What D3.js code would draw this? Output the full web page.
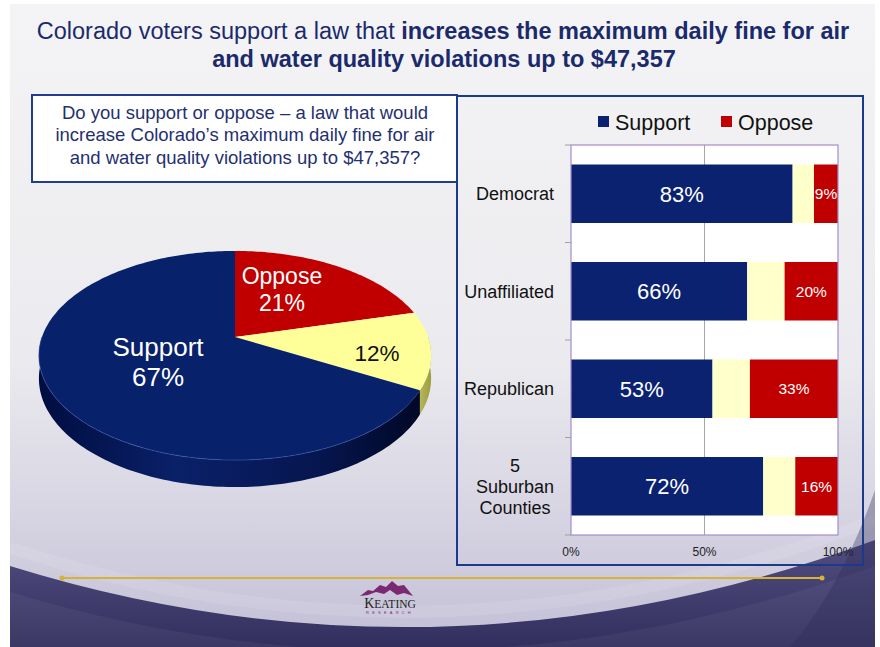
<!DOCTYPE html>
<html>
<head>
<meta charset="utf-8">
<script src="https://cdn.jsdelivr.net/npm/d3@7"></script>
<style>
  body { margin: 0; background: #fff; }
  svg { display: block; font-family: "Liberation Sans", Arial, sans-serif; }
</style>
</head>
<body>
<div class="slide"></div>
<script>
// DATA
const titleNormal = "Colorado voters support a law that ";
const titleBold = ["increases the maximum daily fine for air", "and water quality violations up to $47,357"];
const questionLines = [
  "Do you support or oppose \u2013 a law that would",
  "increase Colorado\u2019s maximum daily fine for air",
  "and water quality violations up to $47,357?"
];
const pieCategories = ["Oppose", "Unsure", "Support"];
const pieValues = [21, 12, 67];
const pieShowName = [true, false, true];
const groups = ["Democrat", "Unaffiliated", "Republican", "5\nSuburban\nCounties"];
const supportValues = [83, 66, 53, 72];
const unsureValues = [8, 14, 14, 12];
const opposeValues = [9, 20, 33, 16];
const xTicks = [0, 50, 100];
const legendNames = ["Support", "Oppose"];

// Setup
const W = 880, H = 647;
const navy = "#07216b", red = "#c00000";
const svg = d3.select(".slide").append("svg").attr("width", W).attr("height", H);
const defs = svg.append("defs");

addGradient("bg", [[0, "#f4f4f6"], [0.55, "#ebebef"], [0.8, "#d6d4e2"], [1, "#c2bfd6"]], true);
addGradient("dark", [[0, "#524e80"], [1, "#322e5d"]], true);
addGradient("sideNavy", [[0, "#000d40"], [0.35, "#0a2068"], [0.7, "#061650"], [1, "#000722"]], false, 38, 432);
addGradient("sideYellow", [[0, "#e6e680"], [1, "#9a9a40"]], false, 400, 432);

drawBackground();
drawTitle();
drawQuestion();
drawPie();
drawBars();
drawFooter();

function addGradient(id, stops, vertical, x1, x2) {
  const g = defs.append("linearGradient").attr("id", id);
  if (vertical) g.attr("x1", 0).attr("y1", 0).attr("x2", 0).attr("y2", 1);
  else g.attr("gradientUnits", "userSpaceOnUse").attr("x1", x1).attr("x2", x2).attr("y1", 0).attr("y2", 0);
  stops.forEach(s => g.append("stop").attr("offset", s[0]).attr("stop-color", s[1]));
}

// BACKGROUND
function drawBackground() {
  svg.append("rect").attr("x", 10).attr("y", 4).attr("width", 865).attr("height", 643).attr("fill", "url(#bg)");
  svg.append("path").attr("d", "M10,566 Q442,700 875,540 L875,647 L10,647 Z").attr("fill", "url(#dark)");
  svg.append("path").attr("d", "M10,592 Q442,722 875,566 L875,647 L10,647 Z").attr("fill", "#ffffff").attr("opacity", 0.05);
  svg.append("path").attr("d", "M10,548 Q442,688 875,520").attr("fill", "none").attr("stroke", "#ffffff").attr("stroke-width", 12).attr("opacity", 0.1);
  svg.append("path").attr("d", "M790,647 Q840,590 875,490 L875,647 Z").attr("fill", "#2e2a58").attr("opacity", 0.35);
}

// TITLE
function drawTitle() {
  const t = svg.append("text").attr("text-anchor", "middle").attr("font-size", 23.5).attr("fill", "#1b2a6b");
  const l1 = t.append("tspan").attr("x", 443).attr("y", 39);
  l1.append("tspan").text(titleNormal);
  l1.append("tspan").attr("font-weight", "bold").text(titleBold[0]);
  svg.append("text").attr("text-anchor", "middle").attr("font-size", 23.5).attr("font-weight", "bold")
    .attr("fill", "#1b2a6b").attr("x", 444).attr("y", 67).text(titleBold[1]);
}

function drawQuestion() {
  svg.append("rect").attr("x", 32).attr("y", 95).attr("width", 425).attr("height", 87)
    .attr("fill", "#fff").attr("stroke", "#233d8c").attr("stroke-width", 2);
  svg.append("g").selectAll("text").data(questionLines).enter().append("text")
    .attr("x", 245).attr("y", (d, i) => 118.5 + i * 22.5)
    .attr("text-anchor", "middle").attr("font-size", 18.5).attr("fill", "#1f3070")
    .text(d => d);
}

// PIE (perspective projection of a tilted disc)
function drawPie() {
  const p = { cx: 235, cy: 337, r: 193, tilt: 101.3, k: 0.177, depth: 22.2 };
  const project = (a, f = 1, drop = 0) => {
    const w = 1 + p.k * f * Math.cos(a);
    return [p.cx + p.r * f * Math.sin(a) / w, p.cy - p.tilt * f * Math.cos(a) / w + drop / w];
  };
  const rim = (a0, a1, drop = 0) => {
    const n = Math.max(2, Math.ceil((a1 - a0) / 0.02));
    return d3.range(n + 1).map(i => project(a0 + (a1 - a0) * i / n, 1, drop));
  };
  const line = d3.line();
  const arcs = d3.pie().sort(null).value(d => d)(pieValues);
  const topFill = [red, "#ffff99", navy];
  const sideFill = ["#800000", "url(#sideYellow)", "url(#sideNavy)"];

  const g = svg.append("g").attr("class", "pie3d");
  // sides (front half only)
  arcs.forEach((d, i) => {
    const lo = Math.max(d.startAngle, Math.PI / 2), hi = Math.min(d.endAngle, 3 * Math.PI / 2);
    if (lo >= hi) return;
    const pts = rim(lo, hi).concat(rim(lo, hi, p.depth).reverse());
    g.append("path").attr("d", line(pts) + "Z").attr("fill", sideFill[i]);
  });
  // top faces
  arcs.forEach((d, i) => {
    const pts = [project(0, 0)].concat(rim(d.startAngle, d.endAngle));
    g.append("path").attr("d", line(pts) + "Z").attr("fill", topFill[i]);
  });
  g.append("path").attr("d", line(rim(Math.PI * 0.72, Math.PI * 1.5)))
    .attr("fill", "none").attr("stroke", "#3d5cb0").attr("stroke-width", 1).attr("opacity", 0.6);

  // labels
  const labelF = [0.42, 0.73, 0.5];
  const labelNudge = [[0, -16], [0, 6], [10, -2]];
  const labelSize = [23, 22.5, 26];
  const labelColor = ["#fff", "#111", "#fff"];
  arcs.forEach((d, i) => {
    const mid = (d.startAngle + d.endAngle) / 2;
    const [px, py] = project(mid, labelF[i]);
    const lx = px + labelNudge[i][0], ly = py + labelNudge[i][1];
    const lines = pieShowName[i] ? [pieCategories[i], pieValues[i] + "%"] : [pieValues[i] + "%"];
    const lh = labelSize[i] * 1.15;
    const t = g.append("text").attr("text-anchor", "middle").attr("font-size", labelSize[i]).attr("fill", labelColor[i]);
    lines.forEach((s, j) => {
      t.append("tspan").attr("x", lx)
        .attr("y", ly + (j - (lines.length - 1) / 2) * lh + labelSize[i] * 0.36)
        .text(s);
    });
  });
}

// BAR CHART
function drawBars() {
  svg.append("rect").attr("x", 457).attr("y", 96).attr("width", 406).attr("height", 469)
    .attr("fill", "none").attr("stroke", "#1c3a8c").attr("stroke-width", 2);

  const x = d3.scaleLinear().domain([0, 100]).range([571, 838]);
  const y = d3.scaleBand().domain(groups).range([145, 535]).paddingInner(0.4).paddingOuter(0.2);
  const rows = groups.map((g, i) => ({ group: g, support: supportValues[i], unsure: unsureValues[i], oppose: opposeValues[i] }));
  const stack = d3.stack().keys(["support", "unsure", "oppose"])(rows);
  const colors = { support: "#0b2270", unsure: "#ffffcc", oppose: red };

  const g = svg.append("g").attr("class", "bars");
  g.append("rect").attr("x", x(0)).attr("y", y.range()[0]).attr("width", x(100) - x(0))
    .attr("height", y.range()[1] - y.range()[0]).attr("fill", "#fff");
  g.append("line").attr("x1", x(50)).attr("x2", x(50)).attr("y1", y.range()[0]).attr("y2", y.range()[1])
    .attr("stroke", "#a6a6a6").attr("stroke-width", 1);

  stack.forEach(layer => {
    g.append("g").selectAll("rect").data(layer).enter().append("rect")
      .attr("x", d => x(d[0])).attr("y", d => y(d.data.group))
      .attr("width", d => x(d[1]) - x(d[0])).attr("height", y.bandwidth())
      .attr("fill", colors[layer.key]);
  });

  g.append("rect").attr("x", x(0)).attr("y", y.range()[0]).attr("width", x(100) - x(0))
    .attr("height", y.range()[1] - y.range()[0]).attr("fill", "none").attr("stroke", "#a48ccb").attr("stroke-width", 1.2);

  // left axis ticks at band edges
  const edges = d3.range(groups.length + 1).map(i => y.range()[0] + i * y.step());
  g.append("g").selectAll("line").data(edges).enter().append("line")
    .attr("x1", x(0) - 6).attr("x2", x(0)).attr("y1", d => d).attr("y2", d => d)
    .attr("stroke", "#a0a0a0");

  // value labels
  const supportLayer = stack[0], opposeLayer = stack[2];
  g.append("g").selectAll("text").data(supportLayer).enter().append("text")
    .attr("x", d => (x(d[0]) + x(d[1])) / 2).attr("y", d => y(d.data.group) + y.bandwidth() / 2 + 8)
    .attr("text-anchor", "middle").attr("font-size", 22).attr("fill", "#fff")
    .text(d => d.data.support + "%");
  g.append("g").selectAll("text").data(opposeLayer).enter().append("text")
    .attr("x", d => (x(d[0]) + x(d[1])) / 2).attr("y", d => y(d.data.group) + y.bandwidth() / 2 + 5.5)
    .attr("text-anchor", "middle").attr("font-size", 15.5).attr("fill", "#fff")
    .text(d => d.data.oppose + "%");

  // category labels
  groups.forEach(name => {
    const lines = name.split("\n");
    const t = g.append("text").attr("font-size", 18).attr("fill", "#111").attr("text-anchor", "middle");
    const cy = y(name) + y.bandwidth() / 2;
    const spans = lines.map((s, j) => t.append("tspan").attr("y", cy + (j - (lines.length - 1) / 2) * 21 + 6.5).text(s));
    const maxW = d3.max(spans, s => s.node().getComputedTextLength());
    spans.forEach(s => s.attr("x", 554 - maxW / 2));
  });

  // x ticks
  g.append("g").selectAll("text").data(xTicks).enter().append("text")
    .attr("x", d => x(d)).attr("y", 556).attr("text-anchor", "middle")
    .attr("font-size", 12).attr("fill", "#222").text(d => d + "%");

  // legend
  const lx = [598, 721];
  const lc = [colors.support, colors.oppose];
  legendNames.forEach((n, i) => {
    g.append("rect").attr("x", lx[i]).attr("y", 116).attr("width", 11).attr("height", 11).attr("fill", lc[i]);
    g.append("text").attr("x", lx[i] + 17).attr("y", 129.5).attr("font-size", 21.5).attr("fill", "#111").text(n);
  });
}

// FOOTER
function drawFooter() {
  const f = svg.append("g").attr("class", "footer");
  f.append("line").attr("x1", 62).attr("x2", 822).attr("y1", 578).attr("y2", 578)
    .attr("stroke", "#d6b338").attr("stroke-width", 2);
  f.selectAll("circle").data([62, 822]).enter().append("circle")
    .attr("cx", d => d).attr("cy", 578).attr("r", 2.5).attr("fill", "#d6b338");
  f.append("path")
    .attr("d", "M360,596 L368,590 L373,591 L380,585 L386,587 L392,581 L398,586 L404,585 L413,596 L404,593 L397,595 L390,590 L384,594 L376,592 L368,595 Z")
    .attr("fill", "#7b2a72");
  const t = f.append("text").attr("x", 390).attr("y", 607.5).attr("text-anchor", "middle")
    .attr("font-family", "Liberation Serif, serif").attr("fill", "#222");
  t.append("tspan").attr("font-size", 14).text("K");
  t.append("tspan").attr("font-size", 11.5).text("EATING");
  f.append("text").attr("x", 390).attr("y", 614).attr("text-anchor", "middle")
    .attr("font-size", 4).attr("letter-spacing", 3.2).attr("fill", "#7b2a72").text("RESEARCH");
}
</script>
</body>
</html>
